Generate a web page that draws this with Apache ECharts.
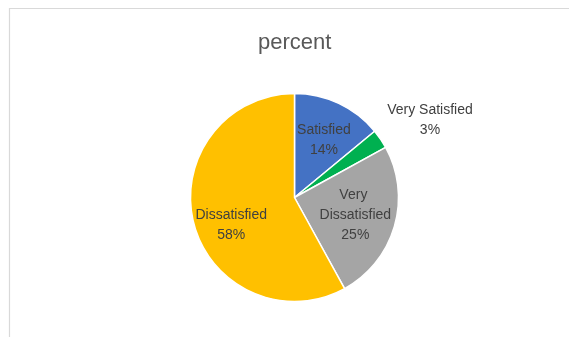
<!DOCTYPE html>
<html>
<head>
<meta charset="utf-8">
<script src="https://cdn.jsdelivr.net/npm/echarts@6/dist/echarts.min.js"></script>
<style>
  html, body { margin: 0; padding: 0; background: #ffffff; }
  #chart { width: 569px; height: 337px; }
</style>
</head>
<body>
<div id="chart"></div>
<script>
// Survey answers and their share in percent
const categories = ['Satisfied', 'Very Satisfied', 'Very Dissatisfied', 'Dissatisfied'];
const percents = [14, 3, 25, 58];
const sliceColors = ['#4472C4', '#00B050', '#A5A5A5', '#FFC000'];

// Nudges applied to each label after the pie's own inside placement
const labelNudges = [[6, -8], [90, -46], [8, 2], [-10, 14]];

const chart = echarts.init(document.getElementById('chart'), null, { renderer: 'canvas' });

const data = categories.map((name, i) => ({
  name: name,
  value: percents[i],
  itemStyle: { color: sliceColors[i] },
  label: name === 'Very Dissatisfied' ? { width: 82, overflow: 'break' } : {}
}));

chart.setOption({
  animation: false,
  backgroundColor: '#ffffff',
  title: {
    text: 'percent',
    left: 253,
    top: 27,
    textStyle: {
      fontFamily: 'Liberation Sans, Arial, sans-serif',
      fontSize: 22,
      fontWeight: 'normal',
      color: '#595959'
    }
  },
  graphic: [{
    type: 'rect',
    shape: { x: 9.5, y: 8.5, width: 580, height: 360 },
    style: { fill: 'none', stroke: '#d9d9d9', lineWidth: 1.2 },
    silent: true,
    z: -1
  }],
  series: [{
    type: 'pie',
    center: [294.5, 197.5],
    radius: [0, 104],
    startAngle: 90,
    clockwise: true,
    silent: true,
    itemStyle: { borderColor: '#ffffff', borderWidth: 1.5 },
    label: {
      show: true,
      position: 'inside',
      color: '#404040',
      fontFamily: 'Liberation Sans, Arial, sans-serif',
      fontSize: 14,
      lineHeight: 20,
      align: 'center',
      formatter: p => p.name + '\n' + p.value + '%'
    },
    labelLine: { show: false },
    labelLayout: p => ({ dx: labelNudges[p.dataIndex][0], dy: labelNudges[p.dataIndex][1] }),
    data: data
  }]
});
</script>
</body>
</html>
